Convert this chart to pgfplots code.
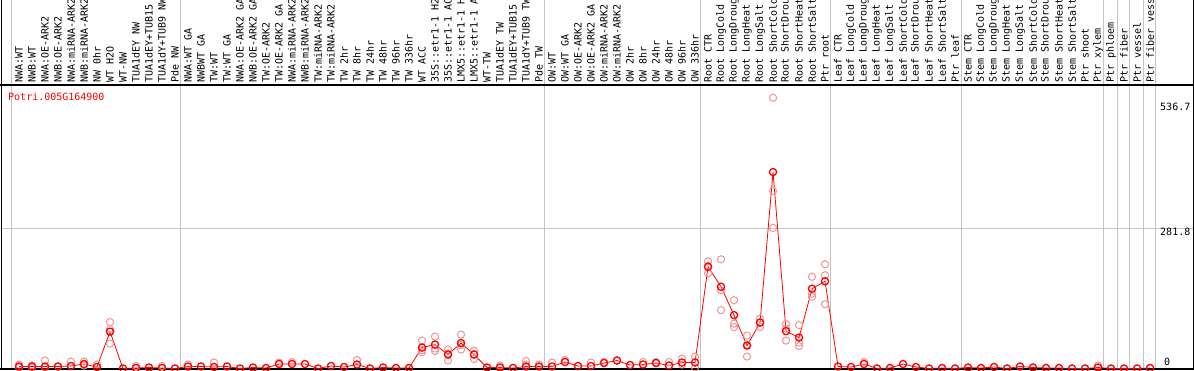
\documentclass[border=0pt]{standalone}
\usepackage{pgfplots}
\usepackage{pgfplotstable}
\pgfplotsset{compat=1.18}
\usepackage{fontspec}
\setmainfont{DejaVu Sans Mono}
\setmonofont{DejaVu Sans Mono}
\definecolor{rep}{RGB}{238,150,150}
\definecolor{grid}{RGB}{196,196,196}

\pgfplotstableread{
x y
0 4
1 4
2 4
3 4
4 5
5 9
6 3
7 74
8 0
9 1
10 2
11 1
12 0
13 4
14 4
15 3
16 4
17 0
18 2
19 1
20 9
21 9
22 9
23 0
24 5
25 3
26 8
27 0
28 2
29 1
30 1
31 42
32 48
33 28
34 51
35 28
36 2
37 2
38 1
39 4
40 4
41 4
42 13
43 5
44 5
45 11
46 16
47 7
48 8
49 11
50 6
51 12
52 12
53 204
54 164
55 107
56 46
57 92
58 394
59 75
60 62
61 160
62 175
63 4
64 3
65 9
66 0
67 1
68 9
69 3
70 0
71 1
72 0
73 2
74 1
75 3
76 0
77 4
78 2
79 1
80 1
81 0
82 0
83 2
84 0
85 0
86 0
87 1
}\means

\pgfplotstableread{
x y
0 8
0 2
1 6
1 2
2 16
2 2
3 4
4 14
5 14
5 6
6 8
7 93
7 79
7 50
9 5
11 5
13 8
15 12
20 12
21 13
26 17
31 56
31 37
31 33
32 64
32 40
32 35
33 38
33 30
33 16
34 68
34 47
34 38
35 36
35 29
35 19
37 6
39 15
39 8
40 8
41 12
42 17
44 12
45 13
46 16
48 13
49 13
50 13
51 20
51 8
52 24
52 2
53 215
53 206
53 191
54 219
54 157
54 117
55 137
55 90
55 83
56 66
56 48
56 24
57 100
57 93
57 83
58 543
58 356
58 282
59 89
59 80
59 56
60 87
60 52
60 45
61 184
61 150
61 144
62 209
62 187
62 129
65 13
83 6
}\reps

\begin{document}
\begin{tikzpicture}[x=1pt,y=1pt]
\useasboundingbox (0,0) rectangle (1194,370);
\clip (0,0) rectangle (1194,370);
% gray separators and grid
\foreach \gx in {11,180,544,700,830,961,1103,1117,1129,1143,1155}
  \draw[grid, line width=1pt] (\gx,0) -- (\gx,370);
\draw[grid, line width=1pt] (1.5,142) -- (1193,142);
% frame
\draw[black, line width=1.2pt] (0,285) -- (1194,285);
\draw[black, line width=1.4pt] (0,1) -- (1194,1);
\draw[black, line width=1pt] (1.5,0) -- (1.5,370);
\draw[black, line width=1pt] (1193,0) -- (1193,370);
% column labels
\foreach \lab [count=\i from 0] in {NWA:WT,NWB:WT,NWA:OE-ARK2,NWB:OE-ARK2,NWA:miRNA-ARK2,NWB:miRNA-ARK2,NW 0hr,WT H2O,WT-NW,TUA1dEY NW,TUA1dEY+TUB15 NW,TUA1dY+TUB9 NW,Pde NW,NWA:WT GA,NWBWT GA,TW:WT,TW:WT GA,NWA:OE-ARK2 GA,NWB:OE-ARK2 GA,TW:OE-ARK2,TW:OE-ARK2 GA,NWA:miRNA-ARK2 GA,NWB:miRNA-ARK2 GA,TW:miRNA-ARK2,TW:miRNA-ARK2 GA,TW 2hr,TW 8hr,TW 24hr,TW 48hr,TW 96hr,TW 336hr,WT ACC,35S::etr1-1 H2O,35S::etr1-1 ACC,LMX5::etr1-1 H2O,LMX5::etr1-1 ACC,WT-TW,TUA1dEY TW,TUA1dEY+TUB15 TW,TUA1dY+TUB9 TW,Pde TW,OW:WT,OW:WT GA,OW:OE-ARK2,OW:OE-ARK2 GA,OW:miRNA-ARK2,OW:miRNA-ARK2 GA,OW 2hr,OW 8hr,OW 24hr,OW 48hr,OW 96hr,OW 336hr,Root CTR,Root LongCold,Root LongDrought,Root LongHeat,Root LongSalt,Root ShortCold,Root ShortDrought,Root ShortHeat,Root ShortSalt,Ptr root,Leaf CTR,Leaf LongCold,Leaf LongDrought,Leaf LongHeat,Leaf LongSalt,Leaf ShortCold,Leaf ShortDrought,Leaf ShortHeat,Leaf ShortSalt,Ptr leaf,Stem CTR,Stem LongCold,Stem LongDrought,Stem LongHeat,Stem LongSalt,Stem ShortCold,Stem ShortDrought,Stem ShortHeat,Stem ShortSalt,Ptr shoot,Ptr xylem,Ptr phloem,Ptr fiber,Ptr vessel,Ptr fiber vessel}
  \node[rotate=90, anchor=west, inner sep=0pt, font=\fontsize{10}{10}\selectfont] at ({19+13*\i},287) {\lab};
\node[anchor=west, inner sep=0pt, text=red, font=\fontsize{10}{10}\selectfont] at (8,273) {Potri.005G164900};
\node[anchor=west, inner sep=0pt, font=\fontsize{10}{10}\selectfont] at (1160,263) {536.7};
\node[anchor=west, inner sep=0pt, font=\fontsize{10}{10}\selectfont] at (1160,138) {281.8};
\node[anchor=west, inner sep=0pt, font=\fontsize{10}{10}\selectfont] at (1164,8) {0};
\begin{axis}[at={(0,0)}, anchor=south west, scale only axis,
  width=1194pt, height=370pt,
  xmin=-1.4615, xmax=90.385, ymin=-3.0, ymax=739.1,
  hide axis, clip=false]
\addplot[only marks, mark=o, mark size=3.6pt, draw=rep, mark options={line width=1pt, draw=rep}] table {\reps};
\addplot[red, line width=0.8pt, mark=o, mark size=3.6pt, mark options={line width=1.3pt, draw=red}] table {\means};
\end{axis}
\end{tikzpicture}
\end{document}
